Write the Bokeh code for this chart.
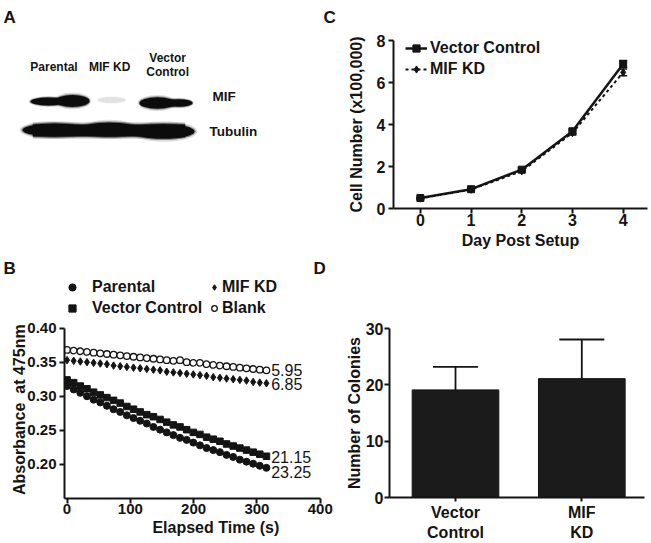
from bokeh.plotting import figure
from bokeh.models import (Range1d, FixedTicker, NumeralTickFormatter, Label, Legend,
                          LegendItem, Whisker, TeeHead, ColumnDataSource)
from bokeh.layouts import column, row
from bokeh.embed import file_html
from bokeh.resources import INLINE

FONT = "Liberation Sans"
INK = "#141414"
NBSP = "\u00a0"

# ---------------- data ----------------
# A: western blot (band geometry of the scanned blot, pixel space)
blot_lane_labels = ["Parental", "MIF KD", "Vector\nControl"]
blot_row_labels = ["MIF", "Tubulin"]
mif_band_x = [48, 72, 111, 157, 178]
mif_band_y = [101, 100.5, 99.5, 102.5, 102.5]
mif_band_w = [36, 34, 28, 36, 28]
mif_band_h = [8, 12, 6, 11.5, 7.5]
mif_band_level = [1.0, 1.0, 0.2, 1.0, 1.0]
tub_band_x = [54, 109, 163]
tub_band_y = [129.5, 129, 131]
tub_band_w = [64, 56, 62]
tub_band_h = [13, 14, 14.5]

# B: absorbance kinetics
elapsed_s = [0, 10.5, 21, 31.5, 42, 52.5, 63, 73.5, 84, 94.5, 105, 115.5, 126, 136.5, 147,
             157.5, 168, 178.5, 189, 199.5, 210, 220.5, 231, 241.5, 252, 262.5, 273, 283.5,
             294, 304.5, 315]
abs_parental = [0.315, 0.310, 0.305, 0.300, 0.295, 0.291, 0.286, 0.281, 0.277, 0.272, 0.268,
                0.264, 0.260, 0.255, 0.251, 0.247, 0.243, 0.239, 0.236, 0.232, 0.228, 0.224,
                0.221, 0.218, 0.214, 0.211, 0.207, 0.204, 0.201, 0.198, 0.195]
abs_vector = [0.324, 0.320, 0.315, 0.311, 0.306, 0.302, 0.298, 0.294, 0.290, 0.285, 0.281,
              0.277, 0.273, 0.270, 0.266, 0.262, 0.258, 0.255, 0.251, 0.247, 0.244, 0.240,
              0.237, 0.234, 0.230, 0.227, 0.224, 0.221, 0.218, 0.215, 0.212]
abs_mifkd = [0.353, 0.352, 0.351, 0.350, 0.349, 0.348, 0.347, 0.345, 0.344, 0.343, 0.342,
             0.341, 0.340, 0.339, 0.338, 0.336, 0.335, 0.334, 0.333, 0.332, 0.331, 0.330,
             0.328, 0.327, 0.326, 0.325, 0.324, 0.323, 0.321, 0.320, 0.319]
abs_blank = [0.368, 0.367, 0.366, 0.365, 0.364, 0.363, 0.362, 0.361, 0.360, 0.359, 0.358,
             0.357, 0.356, 0.355, 0.354, 0.353, 0.352, 0.353, 0.350, 0.349, 0.349, 0.347,
             0.346, 0.345, 0.344, 0.343, 0.342, 0.341, 0.340, 0.339, 0.338]
slope_text = ["23.25", "21.15", "6.85", "5.95"]
slope_label_y = [0.1896, 0.2102, 0.3187, 0.3383]

# C: growth curve
days = [0, 1, 2, 3, 4]
cells_vector = [0.50, 0.92, 1.85, 3.68, 6.88]
cells_vector_err = [0.04, 0.05, 0.08, 0.10, 0.17]
cells_mifkd = [0.48, 0.90, 1.78, 3.60, 6.48]
cells_mifkd_err = [0.03, 0.05, 0.07, 0.10, 0.16]

# D: colonies
colony_groups = ["Vector\nControl", "MIF\nKD"]
colony_pos = [1, 2]
colonies = [19.1, 21.1]
colonies_err = [4.1, 6.95]


# ---------------- helpers ----------------
def make_fig(w, h, xr, yr, left, right, top, bottom, axes=True):
    kw = {}
    if not axes:
        kw = dict(x_axis_location=None, y_axis_location=None)
    p = figure(width=w, height=h, x_range=Range1d(*xr), y_range=Range1d(*yr),
               output_backend="svg", toolbar_location=None, tools="", **kw)
    p.frame_align = False
    p.min_border = 0
    p.min_border_left = left
    p.min_border_right = right
    p.min_border_top = top
    p.min_border_bottom = bottom
    p.outline_line_color = None
    p.grid.visible = False
    p.background_fill_color = "white"
    p.border_fill_color = "white"
    return p


def style_axes(p, size):
    for ax in p.axis:
        ax.axis_line_width = 2
        ax.axis_line_color = INK
        ax.major_tick_line_width = 2
        ax.major_tick_line_color = INK
        ax.major_tick_out = 5
        ax.major_tick_in = 0
        ax.minor_tick_line_color = None
        ax.major_label_text_font = FONT
        ax.major_label_text_font_style = "bold"
        ax.major_label_text_font_size = size
        ax.major_label_text_color = INK
        ax.axis_label_text_font = FONT
        ax.axis_label_text_font_style = "bold"
        ax.axis_label_text_font_size = "16px"
        ax.axis_label_text_color = INK


def lab(p, x, y, text, size, bold=True, align="left", baseline="alphabetic"):
    p.add_layout(Label(x=x, y=y, text=text, text_font=FONT, text_font_size=size,
                       text_font_style="bold" if bold else "normal",
                       text_align=align, text_baseline=baseline, text_color=INK))


# ---------------- panel A (also carries the panel letters) ----------------
pa = make_fig(340, 276, (0, 340), (276, 0), 0, 0, 0, 0, axes=False)
layers = [(1.1, 1.4, 0.14), (1.04, 1.18, 0.4), (1.0, 1.0, 1.0)]
for sw, sh, al in layers:
    pa.ellipse(x=mif_band_x, y=mif_band_y,
               width=[w * sw for w in mif_band_w], height=[h * sh for h in mif_band_h],
               fill_color=["#0c0c0c" if lv > 0.5 else "#9a9a9a" for lv in mif_band_level],
               fill_alpha=[al * lv for lv in mif_band_level], line_color=None)
    pa.ellipse(x=tub_band_x, y=tub_band_y,
               width=[w * sw for w in tub_band_w], height=[h * sh for h in tub_band_h],
               fill_color="#0c0c0c", fill_alpha=al, line_color=None)
    pa.rect(x=[(tub_band_x[0] + tub_band_x[-1]) / 2], y=[130],
            width=[(tub_band_x[-1] - tub_band_x[0]) + 0.7 * tub_band_w[-1]], height=[12 * sh],
            fill_color="#0c0c0c", fill_alpha=al, line_color=None)
lane_cx = [53.5, 109.2, 167.2]
for cx, name in zip(lane_cx, blot_lane_labels):
    parts = name.split("\n")
    if len(parts) == 1:
        lab(pa, cx, 66.5, parts[0], "12px", align="center")
    else:
        lab(pa, cx, 57.5, parts[0], "12px", align="center")
        lab(pa, cx, 71, parts[1], "12px", align="center")
lab(pa, 212, 95.5, blot_row_labels[0], "13.5px")
lab(pa, 209, 130.5, blot_row_labels[1], "13.5px")
lab(pa, 3, 17, "A", "17px")
lab(pa, 323, 17, "C", "17px")
lab(pa, 3, 267.5, "B", "17px")
lab(pa, 313, 267.5, "D", "17px")

# ---------------- panel C ----------------
pc = make_fig(311, 276, (-0.53, 4.48), (0, 8), 53, 4, 40, 68)
src_m = ColumnDataSource(dict(x=days, y=cells_mifkd,
                              lo=[v - e for v, e in zip(cells_mifkd, cells_mifkd_err)],
                              hi=[v + e for v, e in zip(cells_mifkd, cells_mifkd_err)]))
src_v = ColumnDataSource(dict(x=days, y=cells_vector,
                              lo=[v - e for v, e in zip(cells_vector, cells_vector_err)],
                              hi=[v + e for v, e in zip(cells_vector, cells_vector_err)]))
lm = pc.line("x", "y", source=src_m, line_color=INK, line_width=2, line_dash="3 3")
sm = pc.scatter("x", "y", source=src_m, marker="diamond", size=7.5, fill_color=INK, line_color=INK)
lv = pc.line("x", "y", source=src_v, line_color=INK, line_width=2.5)
sv = pc.scatter("x", "y", source=src_v, marker="square", size=7, fill_color=INK, line_color=INK)
for s in (src_m, src_v):
    pc.add_layout(Whisker(base="x", lower="lo", upper="hi", source=s, line_color=INK, line_width=1.5,
                          upper_head=TeeHead(size=8, line_width=1.5, line_color=INK),
                          lower_head=TeeHead(size=8, line_width=1.5, line_color=INK)))
pc.xaxis.ticker = FixedTicker(ticks=days)
pc.yaxis.ticker = FixedTicker(ticks=[0, 2, 4, 6, 8])
style_axes(pc, "16px")
pc.xaxis.major_label_standoff = 0
pc.yaxis.major_label_standoff = 3
pc.xaxis.axis_label = "Day Post Setup"
pc.yaxis.axis_label = "Cell Number (x100,000)"
pc.xaxis.axis_label_standoff = 3
pc.yaxis.axis_label_standoff = 9
leg_c = Legend(items=[LegendItem(label="Vector Control", renderers=[lv, sv]),
                      LegendItem(label="MIF KD", renderers=[lm, sm])],
               location=(12, 130), orientation="vertical", padding=0, margin=0, spacing=3,
               glyph_width=22, glyph_height=18, label_height=18, label_standoff=3,
               label_text_font=FONT, label_text_font_size="16px", label_text_font_style="bold",
               label_text_color=INK, border_line_color=None, background_fill_alpha=0)
pc.add_layout(leg_c)

# ---------------- panel B ----------------
pb = make_fig(340, 267, (-4, 432), (0.15, 0.4757), 64, 0, 0, 45)
rp = pb.scatter(elapsed_s, abs_parental, marker="circle", size=7, fill_color=INK, line_color=INK)
rv = pb.scatter(elapsed_s, abs_vector, marker="square", size=6.5, fill_color=INK, line_color=INK)
rm = pb.scatter(elapsed_s, abs_mifkd, marker="diamond", size=7.5, fill_color=INK, line_color=INK)
rb = pb.scatter(elapsed_s, abs_blank, marker="circle", size=6.5, fill_color="white",
                line_color=INK, line_width=1.3)
pb.xaxis.ticker = FixedTicker(ticks=[0, 100, 200, 300, 400])
pb.yaxis.ticker = FixedTicker(ticks=[0.20, 0.25, 0.30, 0.35, 0.40])
pb.yaxis.formatter = NumeralTickFormatter(format="0.00")
pb.xaxis.bounds = (-4, 400)
pb.yaxis.bounds = (0.15, 0.40)
style_axes(pb, "15px")
pb.xaxis.major_label_standoff = 0
pb.yaxis.major_label_standoff = 3
# labels are centred on the frame; non-breaking padding re-centres them on the axis rules
pb.xaxis.axis_label = NBSP * 6 + "Elapsed Time (s)"
pb.yaxis.axis_label = "Absorbance" + NBSP + " at 475nm" + NBSP * 10
pb.xaxis.axis_label_standoff = 2
pb.yaxis.axis_label_standoff = -4
common = dict(orientation="vertical", padding=0, margin=0, spacing=3, glyph_height=18,
              label_height=18, label_text_font=FONT, label_text_font_size="16px",
              label_text_font_style="bold", label_text_color=INK, border_line_color=None,
              background_fill_alpha=0)
pb.add_layout(Legend(items=[LegendItem(label="Parental", renderers=[rp]),
                            LegendItem(label="Vector Control", renderers=[rv])],
                     location=(-2, 181.5), glyph_width=20, label_standoff=10, **common))
pb.add_layout(Legend(items=[LegendItem(label="MIF KD", renderers=[rm]),
                            LegendItem(label="Blank", renderers=[rb])],
                     location=(143, 181.5), glyph_width=14, label_standoff=1, **common))
for txt, yy in zip(slope_text, slope_label_y):
    lab(pb, elapsed_s[-1] + 7.5, yy, txt, "16px", bold=False, baseline="middle")

# ---------------- panel D ----------------
pd_ = make_fig(311, 267, (0.4774, 2.4964), (0, 30), 49, 7, 52, 46)
src_d = ColumnDataSource(dict(x=colony_pos, top=colonies,
                              hi=[v + e for v, e in zip(colonies, colonies_err)]))
pd_.vbar(x="x", top="top", width=0.686, source=src_d, fill_color="#1b1b1b", line_color=INK)
pd_.add_layout(Whisker(base="x", lower="top", upper="hi", source=src_d, line_color=INK,
                       line_width=1.8, upper_head=TeeHead(size=45, line_width=1.8, line_color=INK),
                       lower_head=None))
pd_.xaxis.ticker = FixedTicker(ticks=colony_pos)
pd_.yaxis.ticker = FixedTicker(ticks=[0, 10, 20, 30])
style_axes(pd_, "16px")
pd_.xaxis.major_tick_out = 4
pd_.xaxis.major_label_overrides = {p: g for p, g in zip(colony_pos, colony_groups)}
pd_.xaxis.major_label_standoff = 2
pd_.yaxis.major_label_standoff = 1
pd_.yaxis.axis_label = "Number of Colonies"
pd_.yaxis.axis_label_standoff = 0

layout = column(row(pa, pc), row(pb, pd_))
open("out.html", "w").write(file_html(layout, INLINE))
